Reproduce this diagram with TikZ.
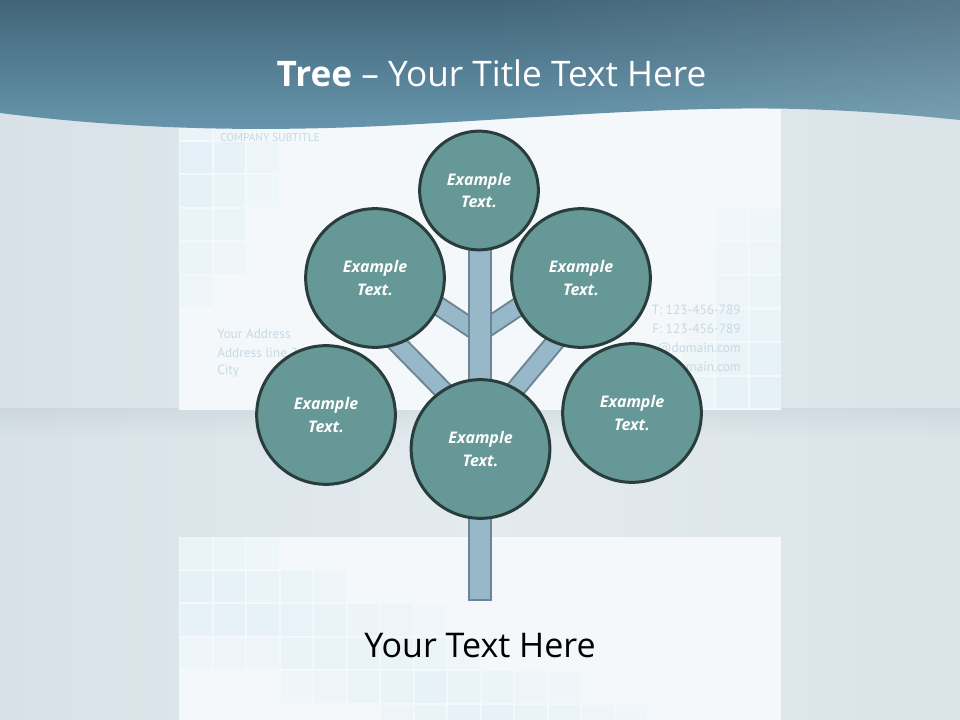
\documentclass[tikz,border=0pt]{standalone}
\usepackage{fontspec}
\setmainfont{Open Sans}
\newfontfamily\cardfont{PT Sans}
\usetikzlibrary{fadings}
\definecolor{bgL}{HTML}{D7E1E7}
\definecolor{bgM}{HTML}{E4EBEF}
\definecolor{bgR}{HTML}{D9E3E8}
\definecolor{hdrTop}{HTML}{41657A}
\definecolor{hdrBot}{HTML}{6898AE}
\definecolor{cardcol}{HTML}{F4F8FA}
\definecolor{sqcol}{HTML}{CFE6F4}
\definecolor{cardtext}{HTML}{C8D9E4}
\definecolor{shadowcol}{HTML}{8E9EA8}
\definecolor{leafFill}{HTML}{659896}
\definecolor{woodFill}{HTML}{97B8C8}
\definecolor{woodLine}{HTML}{6C8494}
\tikzfading[name=fadeDown, top color=transparent!0, bottom color=transparent!100]
\tikzfading[name=fadeLeft, left color=transparent!100, right color=transparent!0]
\begin{document}
\begin{tikzpicture}[x=0.75pt,y=-0.75pt,
  leaf/.style={circle, draw=leafFill!40!black, fill=leafFill, line width=2.25pt,
    minimum size=104pt, inner sep=0pt, align=center, text=white,
    font=\bfseries\itshape\fontsize{12}{17}\selectfont},
  smallleaf/.style={leaf, minimum size=89pt},
  branch/.style={draw=woodLine, line width=1.5pt, double=woodFill, double distance=12pt},
  trunkbox/.style={draw=woodLine, fill=woodFill, line width=1.5pt},
  cardtxt/.style={text=cardtext, inner sep=0pt, font=\cardfont\fontsize{10}{12}\selectfont},
  sq/.style={fill=sqcol}
]
\useasboundingbox (0,0) rectangle (960,720);
% background
\shade[left color=bgL, right color=bgR, middle color=bgM] (0,0) rectangle (960,720);
\fill[shadowcol, opacity=0.15, path fading=fadeDown] (0,408) rectangle (960,436);
% cards
\fill[cardcol] (179,100) rectangle (781,410);
\fill[cardcol] (179,537) rectangle (781,720);
% squares, upper card
\foreach \cc/\rr/\oo in {0/-1/.5,1/-1/.3,0/0/.8,1/0/.6,2/0/.3,0/1/.7,1/1/.5,2/1/.2,0/2/.5,1/2/.4,0/3/.4,1/3/.2,0/4/.2,
  16/2/.15,16/3/.2,16/4/.3,16/5/.4,16/6/.5,16/7/.6,17/2/.2,17/3/.3,17/4/.4,17/5/.5,17/6/.6,17/7/.7,15/5/.15,15/6/.25,15/7/.4}
  \fill[sq, fill opacity=0.55*\oo] ({180+33.5*\cc},{142+33.5*\rr}) rectangle ++(31.5,31.5);
% squares, lower card
\foreach \cc/\rr/\oo in {0/0/.5,1/0/.4,2/0/.2,
  0/1/.7,1/1/.6,2/1/.5,3/1/.4,4/1/.25,
  0/2/.6,1/2/.6,2/2/.6,3/2/.55,4/2/.5,5/2/.35,6/2/.25,7/2/.15,
  0/3/.2,1/3/.25,2/3/.3,3/3/.5,4/3/.5,5/3/.5,6/3/.5,7/3/.4,8/3/.2,
  3/4/.2,4/4/.3,5/4/.4,6/4/.5,7/4/.6,8/4/.5,9/4/.4,10/4/.3,11/4/.2,
  6/5/.3,7/5/.5,8/5/.6,9/5/.6,10/5/.5,11/5/.4,12/5/.3,13/5/.2}
  \fill[sq, fill opacity=0.55*\oo] ({180+33.5*\cc},{537+33.5*\rr}) rectangle ++(31.5,31.5);
% card texts
\node[cardtxt, anchor=base west, font=\cardfont\fontsize{8.5}{10}\selectfont] (subt) at (220,142) {COMPANY SUBTITLE};
\node[cardtxt, anchor=base west] (ad1) at (217,339) {Your Address};
\node[cardtxt, anchor=base west] (ad2) at (217,357) {Address line 2};
\node[cardtxt, anchor=base west] (ad3) at (217,374) {City};
\node[cardtxt, anchor=base east] (ph1) at (741,315) {T: 123-456-789};
\node[cardtxt, anchor=base east] (ph2) at (741,333) {F: 123-456-789};
\node[cardtxt, anchor=base east] (ml1) at (741,352) {@domain.com};
\node[cardtxt, anchor=base east] (ml2) at (741,371) {main.com};
% header
\shade[top color=hdrTop, bottom color=hdrBot]
  (0,0) -- (960,0) -- (960,120)
  .. controls (920,116) and (870,111) .. (800,109)
  .. controls (680,106) and (560,116) .. (420,124)
  .. controls (250,134) and (120,128) .. (0,113) -- cycle;
\fill[white, opacity=0.12, path fading=fadeLeft]
  (480,0) -- (960,0) -- (960,120)
  .. controls (920,116) and (870,111) .. (800,109)
  .. controls (680,106) and (560,116) .. (480,121) -- cycle;
\node[anchor=base, text=white, inner sep=0pt, font=\fontsize{26.4}{30}\selectfont] (title) at (491.5,87) {\textbf{Tree} – Your Title Text Here};
% tree
\coordinate (trunkTop) at (479.5,240);
\coordinate (root) at (479.5,600);
\coordinate (j1) at (479,333);
\coordinate (j2) at (479,427);
\coordinate (j3) at (479,433);
\coordinate (eUL) at (425,297);
\coordinate (eUR) at (533,297);
\coordinate (eLL) at (385,331);
\coordinate (eLR) at (570,324);
\draw[branch] (j1) -- (eUL);
\draw[branch] (j1) -- (eUR);
\draw[branch] (j2) -- (eLL);
\draw[branch] (j3) -- (eLR);
\draw[trunkbox] ([xshift=-8.25pt]trunkTop) rectangle ([xshift=8.25pt]root);
\node[smallleaf] (top) at (479,190.5) {Example\\Text.};
\node[leaf] (ul) at (375,278) {Example\\Text.};
\node[leaf] (ur) at (581,278) {Example\\Text.};
\node[leaf] (ll) at (326,415) {Example\\Text.};
\node[leaf] (lr) at (632,413) {Example\\Text.};
\node[leaf] (ctr) at (480.5,449) {Example\\Text.};
\node[anchor=base, inner sep=0pt, font=\fontsize{25.5}{30}\selectfont] (btxt) at (480,657) {Your Text Here};
\end{tikzpicture}
\end{document}
